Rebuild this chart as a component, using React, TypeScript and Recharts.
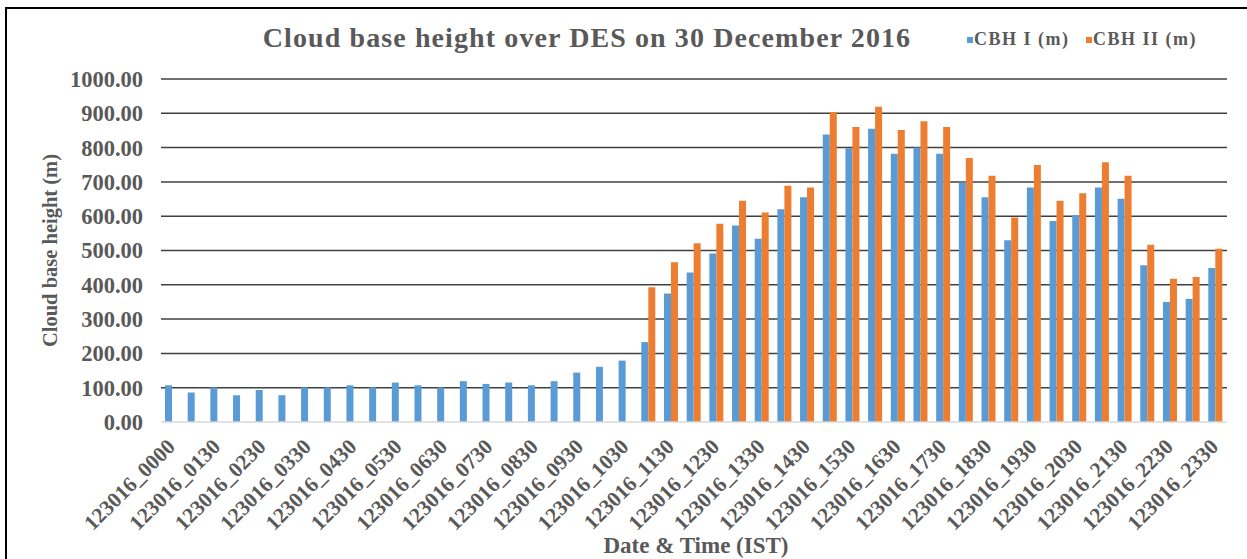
import { BarChart, Bar, XAxis, YAxis, CartesianGrid, Legend } from 'recharts';

const FONT = '"Liberation Serif", "Times New Roman", serif';
const TEXT = '#595959';
const BLUE = '#5B9BD5';
const ORANGE = '#ED7D31';

const TIMES = [
  '0000', '0100', '0130', '0200', '0230', '0300', '0330', '0400', '0430', '0500',
  '0530', '0600', '0630', '0700', '0730', '0800', '0830', '0900', '0930', '1000',
  '1030', '1100', '1130', '1200', '1230', '1300', '1330', '1400', '1430', '1500',
  '1530', '1600', '1630', '1700', '1730', '1800', '1830', '1900', '1930', '2000',
  '2030', '2100', '2130', '2200', '2230', '2300', '2330',
];

const CBH_I = [
  107, 86, 101, 78, 93, 78, 101, 101, 107, 101,
  115, 107, 101, 119, 111, 115, 107, 119, 144, 161,
  179, 233, 375, 436, 491, 573, 534, 620, 655, 838,
  798, 855, 782, 800, 782, 698, 655, 530, 684, 586,
  603, 684, 651, 457, 350, 359, 449,
];

const CBH_II = [
  null, null, null, null, null, null, null, null, null, null,
  null, null, null, null, null, null, null, null, null, null,
  null, 393, 466, 521, 578, 645, 611, 689, 684, 903,
  860, 919, 851, 877, 860, 770, 718, 596, 749, 645,
  667, 757, 718, 517, 418, 423, 505,
];

const Y_TICKS = [0, 100, 200, 300, 400, 500, 600, 700, 800, 900, 1000];

const data = TIMES.map((t, i) => ({
  time: `123016_${t}`,
  cbh1: CBH_I[i],
  cbh2: CBH_II[i],
}));

function XTick({ x, y, payload }: any) {
  return (
    <g transform={`translate(${x + 4},${y})`}>
      <text
        textAnchor="end"
        transform="rotate(-45)"
        fontSize={21.5}
        fontWeight="bold"
        fontFamily={FONT}
        fill={TEXT}
      >
        {payload.value}
      </text>
    </g>
  );
}

function XTitle({ viewBox }: any) {
  return (
    <text
      x={viewBox.x + viewBox.width / 2 + 2}
      y={viewBox.y + 131}
      textAnchor="middle"
      fontSize={23}
      fontWeight="bold"
      fontFamily={FONT}
      fill={TEXT}
    >
      Date &amp; Time (IST)
    </text>
  );
}

function YTitle({ viewBox }: any) {
  const cx = viewBox.x - 4;
  const cy = viewBox.y + viewBox.height / 2;
  return (
    <text
      x={cx}
      y={cy}
      transform={`rotate(-90, ${cx}, ${cy})`}
      textAnchor="middle"
      fontSize={20.5}
      fontWeight="bold"
      fontFamily={FONT}
      fill={TEXT}
    >
      Cloud base height (m)
    </text>
  );
}

function LegendBox({ payload }: any) {
  return (
    <svg width={260} height={30}>
      {(payload || []).map((p: any, i: number) => (
        <g key={p.value} transform={`translate(${i * 119},0)`}>
          <rect x={5} y={12} width={6} height={6} fill={p.color} />
          <text x={12} y={19.5} fontSize={18} fontWeight="bold" fontFamily={FONT} fill={TEXT} letterSpacing={1.5}>
            {p.value}
          </text>
        </g>
      ))}
    </svg>
  );
}

export default function App() {
  return (
    <div style={{ position: 'absolute', left: 0, top: 0, width: 1247, height: 559, background: '#fff', overflow: 'hidden' }}>
      <BarChart
        width={1247}
        height={559}
        data={data}
        margin={{ top: 79, right: 20, bottom: 0, left: 61 }}
        barGap={0}
        barSize={7}
      >
        <CartesianGrid
          vertical={false}
          horizontalValues={Y_TICKS.filter((v) => v > 0)}
          stroke="#404040"
          strokeWidth={1.5}
        />
        <XAxis
          dataKey="time"
          interval={1}
          height={137}
          tickSize={0}
          tickMargin={26}
          tick={<XTick />}
          tickLine={false}
          axisLine={{ stroke: '#d9d9d9', strokeWidth: 1.5 }}
          label={<XTitle />}
        />
        <YAxis
          domain={[0, 1000]}
          ticks={Y_TICKS}
          width={100}
          tickSize={0}
          tickMargin={18}
          axisLine={false}
          tickLine={false}
          tickFormatter={(v: number) => v.toFixed(2)}
          tick={{ fill: TEXT, fontSize: 22.5, fontWeight: 700, fontFamily: FONT }}
          label={<YTitle />}
        />
        <Legend
          layout="horizontal"
          verticalAlign="middle"
          align="center"
          content={<LegendBox />}
          wrapperStyle={{ position: 'absolute', left: 962, top: 25, width: 260, height: 30 }}
        />
        <Bar dataKey="cbh1" name="CBH I (m)" fill={BLUE} isAnimationActive={false} />
        <Bar dataKey="cbh2" name="CBH II (m)" fill={ORANGE} isAnimationActive={false} />
      </BarChart>
      <svg
        width={1247}
        height={559}
        style={{ position: 'absolute', left: 0, top: 0, pointerEvents: 'none' }}
      >
        <path d="M6 560 V8 H1247" fill="none" stroke="#000" strokeWidth={2} />
        <text
          x={587}
          y={47}
          textAnchor="middle"
          fontSize={28}
          fontWeight="bold"
          fontFamily={FONT}
          fill={TEXT}
          letterSpacing={1.1}
        >
          Cloud base height over DES on 30 December 2016
        </text>
      </svg>
    </div>
  );
}
